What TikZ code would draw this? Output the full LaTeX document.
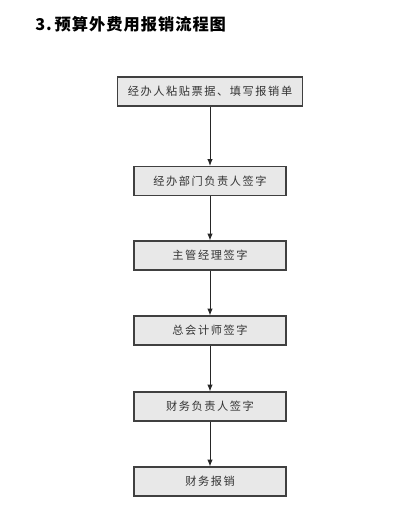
\documentclass[tikz,border=0pt]{standalone}
\usepackage{fontspec}
\usetikzlibrary{arrows.meta}
\newfontfamily\cjk[LetterSpace=14]{Noto Sans CJK SC}
\newfontfamily\cjktitle[LetterSpace=6]{Noto Sans CJK SC}
\begin{document}
\begin{tikzpicture}[
    x=0.75pt, y=-0.75pt,
    stepbox/.style={rectangle, draw=black!75, line width=0.9pt, fill=black!9, minimum width=114pt, minimum height=21.75pt, inner sep=0pt, align=center, font=\cjk\fontsize{8.4pt}{10pt}\selectfont, text=black!80},
    arrow/.style={->, >={Latex[length=5pt,width=4pt]}, line width=0.7pt, draw=black!85}
]
    \useasboundingbox (0,0) rectangle (403,521);

    % Titel
    \node[anchor=west, inner sep=0pt, font=\cjktitle\bfseries\fontsize{12.2pt}{14pt}\selectfont] (title) at (35,24.5) {3.\,预算外费用报销流程图};

    % Schritte
    \node[stepbox, minimum width=138.75pt] (paste) at (210,91.5) {经办人粘贴票据、填写报销单};
    \node[stepbox] (dept) at (210,181) {经办部门负责人签字};
    \node[stepbox] (mgr) at (210,255.5) {主管经理签字};
    \node[stepbox] (acct) at (210,330.5) {总会计师签字};
    \node[stepbox] (fin) at (210,406.5) {财务负责人签字};
    \node[stepbox] (reimb) at (210,481.5) {财务报销};

    % Ablauf
    \draw[arrow] (paste) -- (dept);
    \draw[arrow] (dept) -- (mgr);
    \draw[arrow] (mgr) -- (acct);
    \draw[arrow] (acct) -- (fin);
    \draw[arrow] (fin) -- (reimb);
\end{tikzpicture}
\end{document}
